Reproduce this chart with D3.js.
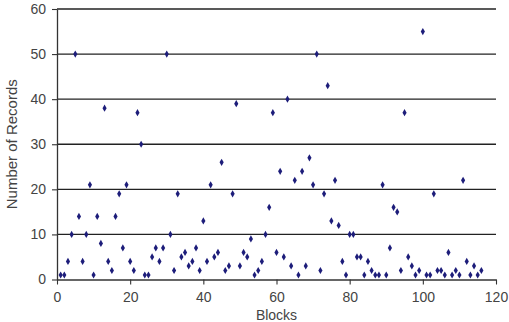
<!doctype html>
<html>
<head>
<meta charset="utf-8">
<title>Records per block</title>
<script src="https://d3js.org/d3.v7.min.js"></script>
<style>
  body { margin: 0; background: #fff; }
  text { font-family: "Liberation Sans", Arial, sans-serif; }
</style>
</head>
<body>
<svg width="509" height="322"></svg>
<script>
// block number 1..116 and record count
var blocks = d3.range(1, 117);
var records = [1, 1, 4, 10, 50, 14, 4, 10, 21, 1,
  14, 8, 38, 4, 2, 14, 19, 7, 21, 4,
  2, 37, 30, 1, 1, 5, 7, 4, 7, 50,
  10, 2, 19, 5, 6, 3, 4, 7, 2, 13,
  4, 21, 5, 6, 26, 2, 3, 19, 39, 3,
  6, 5, 9, 1, 2, 4, 10, 16, 37, 6,
  24, 5, 40, 3, 22, 1, 24, 3, 27, 21,
  50, 2, 19, 43, 13, 22, 12, 4, 1, 10,
  10, 5, 5, 1, 4, 2, 1, 1, 21, 1,
  7, 16, 15, 2, 37, 5, 3, 1, 2, 55,
  1, 1, 19, 2, 2, 1, 6, 1, 2, 1,
  22, 4, 1, 3, 1, 2];
var xTicks = [0, 20, 40, 60, 80, 100, 120];
var yTicks = [0, 10, 20, 30, 40, 50, 60];

var svg = d3.select("svg"),
    margin = { top: 9, left: 57, right: 13, bottom: 42 },
    width = 496 - margin.left,
    height = 279.5 - margin.top,
    g = svg.append("g").attr("transform", "translate(" + margin.left + "," + margin.top + ")");

var x = d3.scaleLinear().domain([0, 120]).range([0, width]);
var y = d3.scaleLinear().domain([0, 60]).range([height, 0]);

// horizontal grid lines
g.append("g")
  .selectAll("line")
  .data(yTicks.filter(function(d) { return d > 0; }))
  .enter().append("line")
  .attr("x1", 0).attr("x2", width)
  .attr("y1", function(d) { return y(d); })
  .attr("y2", function(d) { return y(d); })
  .attr("stroke", "#222")
  .attr("stroke-width", 1.3);

var yAxis = g.append("g")
  .call(d3.axisLeft(y).tickValues(yTicks).tickSize(5).tickPadding(6).tickSizeOuter(0));
var xAxis = g.append("g")
  .attr("transform", "translate(0," + height + ")")
  .call(d3.axisBottom(x).tickValues(xTicks).tickSize(5).tickPadding(8).tickSizeOuter(0));

[xAxis, yAxis].forEach(function(a) {
  a.select(".domain").attr("stroke", "#333").attr("stroke-width", 1.3);
  a.selectAll(".tick line").attr("stroke", "#333").attr("stroke-width", 1.1);
  a.selectAll("text").attr("font-size", 14).attr("fill", "#444")
    .attr("font-family", "Liberation Sans, Arial, sans-serif");
});

var diamond = d3.symbol().type(d3.symbolDiamond).size(15);
g.append("g")
  .selectAll("path")
  .data(blocks)
  .enter().append("path")
  .attr("d", diamond)
  .attr("transform", function(d, i) { return "translate(" + x(d) + "," + y(records[i]) + ")"; })
  .attr("fill", "#1d1d7a");

svg.append("text")
  .attr("x", margin.left + width / 2)
  .attr("y", 320)
  .attr("text-anchor", "middle")
  .attr("font-size", 14)
  .attr("fill", "#444")
  .text("Blocks");

svg.append("text")
  .attr("transform", "translate(17," + (margin.top + height / 2) + ") rotate(-90)")
  .attr("text-anchor", "middle")
  .attr("font-size", 15)
  .attr("fill", "#444")
  .text("Number of Records");
</script>
</body>
</html>
